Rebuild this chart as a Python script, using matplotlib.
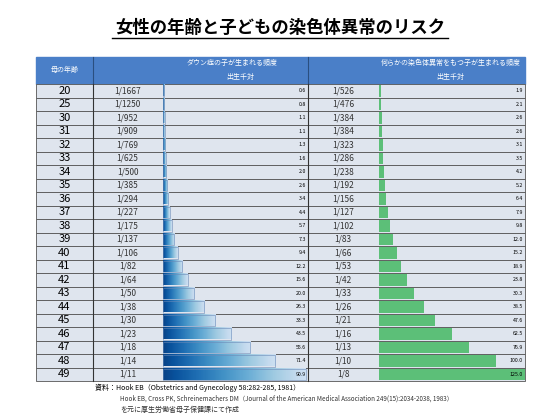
import matplotlib.pyplot as plt
import numpy as np
from matplotlib.patches import Rectangle

plt.rcParams['font.family'] = ['Noto Sans CJK JP', 'DejaVu Sans']

ages = [20, 25, 30, 31, 32, 33, 34, 35, 36, 37, 38, 39, 40, 41, 42, 43, 44, 45, 46, 47, 48, 49]
down_freq = ['1/1667', '1/1250', '1/952', '1/909', '1/769', '1/625', '1/500', '1/385', '1/294', '1/227',
             '1/175', '1/137', '1/106', '1/82', '1/64', '1/50', '1/38', '1/30', '1/23', '1/18', '1/14', '1/11']
down_val = [0.6, 0.8, 1.1, 1.1, 1.3, 1.6, 2.0, 2.6, 3.4, 4.4, 5.7, 7.3, 9.4, 12.2, 15.6, 20.0, 26.3, 33.3,
            43.5, 55.6, 71.4, 90.9]
chrom_freq = ['1/526', '1/476', '1/384', '1/384', '1/323', '1/286', '1/238', '1/192', '1/156', '1/127',
              '1/102', '1/83', '1/66', '1/53', '1/42', '1/33', '1/26', '1/21', '1/16', '1/13', '1/10', '1/8']
chrom_val = [1.9, 2.1, 2.6, 2.6, 3.1, 3.5, 4.2, 5.2, 6.4, 7.9, 9.8, 12.0, 15.2, 18.9, 23.8, 30.3, 38.5,
             47.6, 62.5, 76.9, 100.0, 125.0]

fig = plt.figure(figsize=(5.6, 4.2), dpi=100)
ax = fig.add_axes([0, 0, 1, 1])
ax.set_xlim(0, 560)
ax.set_ylim(420, 0)
ax.axis('off')

ax.text(280, 28, '女性の年齢と子どもの染色体異常のリスク', ha='center', va='center',
        fontsize=12.5, fontweight='bold')
ax.plot([112, 448], [38, 38], color='black', lw=1)

left, right = 36, 525
top, htop = 57, 84
n = len(ages)
rh = (381 - htop) / n
c1, c2, c3, c4 = 93, 162, 308, 378
hdr = '#4a7fc8'
ax.add_patch(Rectangle((left, top), right - left, htop - top, color=hdr))
ax.text((left + c1) / 2, 70, '母の年齢', color='white', ha='center', va='center', fontsize=5)
ax.text(232, 63, 'ダウン症の子が生まれる頻度', color='white', ha='center', va='center', fontsize=5)
ax.text(240, 77, '出生千対', color='white', ha='center', va='center', fontsize=5)
ax.text(451, 63, '何らかの染色体異常をもつ子が生まれる頻度', color='white', ha='center', va='center', fontsize=5)
ax.text(450, 77, '出生千対', color='white', ha='center', va='center', fontsize=5)
for x in [c1, c3]:
    ax.plot([x, x], [top, htop], color='#2a4f80', lw=0.8)

grad = np.linspace(0, 1, 100).reshape(1, -1)
bscale = (305 - c2) / 90.9
gscale = (right - 1 - c4) / 125.0
for i in range(n):
    y0 = htop + i * rh
    ax.add_patch(Rectangle((left, y0), right - left, rh, facecolor='#dfe5ee', edgecolor='#555555', lw=0.6))
    yc = y0 + rh / 2
    ax.text((left + c1) / 2, yc, str(ages[i]), ha='center', va='center', fontsize=8)
    ax.text((c1 + c2) / 2, yc, down_freq[i], ha='center', va='center', fontsize=6, color='#333333')
    ax.text((c3 + c4) / 2, yc, chrom_freq[i], ha='center', va='center', fontsize=6, color='#333333')
    w = max(down_val[i] * bscale, 1.2)
    ax.imshow(grad, extent=(c2 + 1, c2 + 1 + w, y0 + rh - 1, y0 + 1), cmap='Blues_r',
              vmin=-0.1, vmax=1.3, aspect='auto', zorder=2)
    ax.add_patch(Rectangle((c2 + 1, y0 + 1), w, rh - 2, fill=False, edgecolor='#6a8ab8', lw=0.4, zorder=3))
    gw = max(chrom_val[i] * gscale, 1.2)
    ax.barh(yc, gw, height=rh - 2, left=c4 + 1, color='#5cbf78', zorder=2)
    ax.text(c3 - 2, yc, f'{down_val[i]:.1f}', ha='right', va='center', fontsize=3.8, zorder=4)
    ax.text(right - 2, yc, f'{chrom_val[i]:.1f}', ha='right', va='center', fontsize=3.8, zorder=4)
for x in [c1, c3]:
    ax.plot([x, x], [htop, 381], color='#333333', lw=0.8, zorder=5)
ax.set_xlim(0, 560)
ax.set_ylim(420, 0)

ax.text(95, 388, '資料：Hook EB（Obstetrics and Gynecology 58:282-285, 1981）', fontsize=5, va='center')
ax.text(120, 399, 'Hook EB, Cross PK, Schreinemachers DM（Journal of the American Medical Association 249(15):2034-2038, 1983）',
        fontsize=4.5, va='center', color='#333333')
ax.text(120, 410, 'を元に厚生労働省母子保健課にて作成', fontsize=5, va='center', color='#333333')

fig.savefig('out.png', dpi=100)
